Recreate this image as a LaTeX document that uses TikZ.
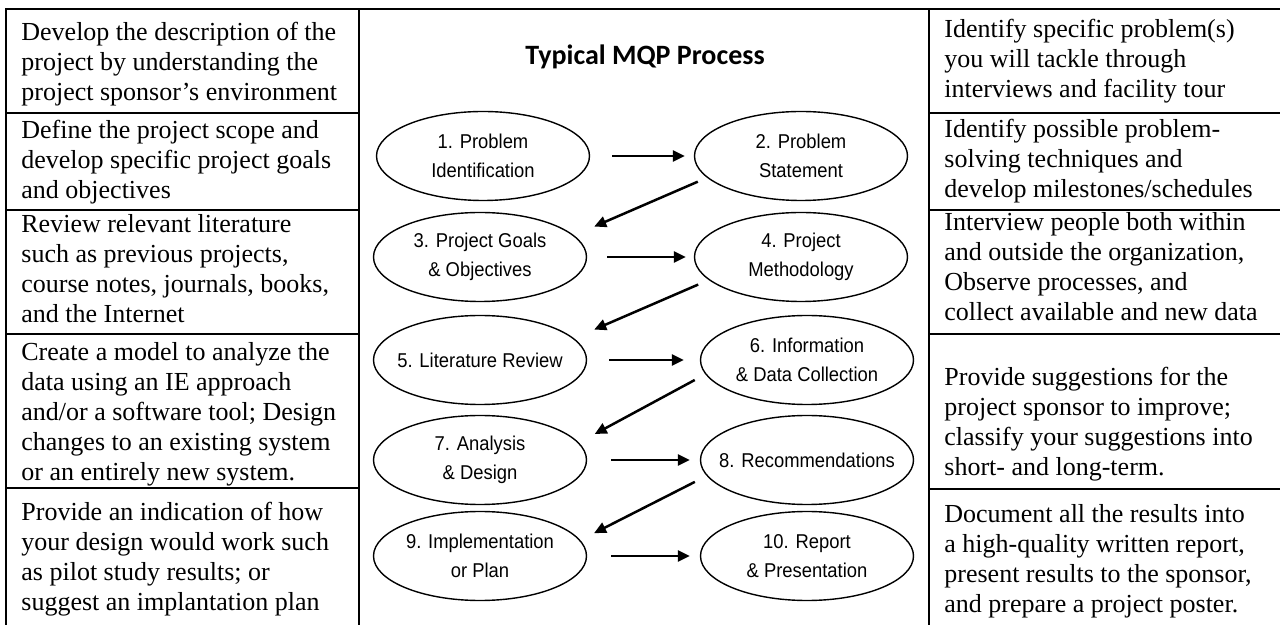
\documentclass[tikz,border=0pt]{standalone}
\usepackage{fontspec}
\setmainfont{Liberation Serif}
\newfontfamily\stepfont[FakeStretch=0.92]{Liberation Sans}
\newfontfamily\titlefont{Carlito}
\usetikzlibrary{shapes.geometric,arrows.meta}

\begin{document}
\begin{tikzpicture}[
    x=0.5pt,y=-0.5pt,
    Step/.style={ellipse,draw,line width=0.7pt,minimum width=106.5pt,minimum height=44.5pt,inner xsep=-8pt,inner ysep=0pt,align=center,font=\stepfont\fontsize{10}{14.5}\selectfont},
    Note/.style={anchor=north west,inner sep=0pt,align=left,font=\fontsize{13}{15}\selectfont},
    Rule/.style={line width=1pt},
    Line/.style={-{Triangle[length=6pt,width=5.5pt]},line width=1.25pt},
    ]

    \useasboundingbox (0,0) rectangle (1280,625);

    \draw[Rule,line width=1.4pt] (6,625) -- (6,9) -- (1280,9);
    \draw[Rule] (359,9) -- (359,625);
    \draw[Rule] (929,9) -- (929,625);
    \foreach \y in {113,210,334,488} {
      \draw[Rule] (6,\y) -- (359,\y);
    }
    \foreach \y in {113,210,334,489} {
      \draw[Rule] (929,\y) -- (1280,\y);
    }

    \node[Note] (L1) at (21,22)  {Develop the description of the\\project by understanding the\\project sponsor's environment};
    \node[Note] (L2) at (21,120) {Define the project scope and\\develop specific project goals\\and objectives};
    \node[Note] (L3) at (21,214) {Review relevant literature\\such as previous projects,\\course notes, journals, books,\\and the Internet};
    \node[Note] (L4) at (21,342) {Create a model to analyze the\\data using an IE approach\\and/or a software tool; Design\\changes to an existing system\\or an entirely new system.};
    \node[Note] (L5) at (21,502) {Provide an indication of how\\your design would work such\\as pilot study results; or\\suggest an implantation plan};

    \node[Note] (R1) at (944,19)  {Identify specific problem(s)\\you will tackle through\\interviews and facility tour};
    \node[Note] (R2) at (944,119) {Identify possible problem-\\solving techniques and\\develop milestones/schedules};
    \node[Note] (R3) at (944,212) {Interview people both within\\and outside the organization,\\Observe processes, and\\collect available and new data};
    \node[Note] (R4) at (944,367) {Provide suggestions for the\\project sponsor to improve;\\classify your suggestions into\\short- and long-term.};
    \node[Note] (R5) at (944,504) {Document all the results into\\a high-quality written report,\\present results to the sponsor,\\and prepare a project poster.};

    \node[anchor=base,font=\titlefont\bfseries\fontsize{14}{17}\selectfont] (Title) at (645,65) {Typical MQP Process};

    \node[Step] (P1)  at (483,156) {1. Problem\\Identification};
    \node[Step] (P2)  at (801,156) {2. Problem\\Statement};
    \node[Step] (P3)  at (480,257) {3. Project Goals\\\& Objectives};
    \node[Step] (P4)  at (801,257) {4. Project\\Methodology};
    \node[Step] (P5)  at (480,360) {5. Literature Review};
    \node[Step] (P6)  at (807,360) {6. Information\\\& Data Collection};
    \node[Step] (P7)  at (480,460) {7. Analysis\\\& Design};
    \node[Step] (P8)  at (807,460) {8. Recommendations};
    \node[Step] (P9)  at (480,556) {9. Implementation\\or Plan};
    \node[Step] (P10) at (807,556) {10. Report\\\& Presentation};

    \draw[Line,shorten <=11pt,shorten >=4.5pt] (P1) -- (P2);
    \draw[Line,shorten <=10pt,shorten >=4pt]   (P3) -- (P4);
    \draw[Line,shorten <=11pt,shorten >=8pt]   (P5) -- (P6);
    \draw[Line,shorten <=12pt,shorten >=5pt]   (P7) -- (P8);
    \draw[Line,shorten <=12pt,shorten >=5pt]   (P9) -- (P10);

    \draw[Line,shorten <=5pt,shorten >=11pt]    (P2.193.6) -- (P3.13.1);
    \draw[Line,shorten <=5.75pt,shorten >=11pt] (P4.194.6) -- (P5.13.1);
    \draw[Line,shorten <=6pt,shorten >=9pt]     (P6.188.3) -- (P7.10.9);
    \draw[Line,shorten <=6.6pt,shorten >=7.7pt] (P8.189.2) -- (P9.9.3);
  \end{tikzpicture}
\end{document}
